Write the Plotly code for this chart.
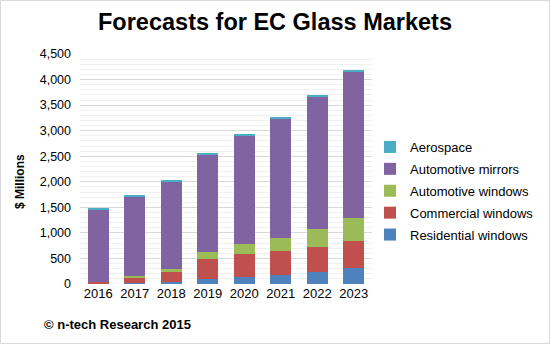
import plotly.graph_objects as go

years = ["2016", "2017", "2018", "2019", "2020", "2021", "2022", "2023"]
residential = [5, 20, 45, 97, 136, 175, 240, 318]
commercial = [35, 115, 195, 396, 455, 474, 487, 526]
auto_windows = [0, 20, 60, 137, 194, 253, 344, 448]
auto_mirrors = [1425, 1565, 1705, 1896, 2123, 2340, 2592, 2871]
aerospace = [5, 20, 25, 20, 20, 20, 20, 20]

series = [
    ("Residential windows", residential, "#4F81BD"),
    ("Commercial windows", commercial, "#C0504D"),
    ("Automotive windows", auto_windows, "#9BBB59"),
    ("Automotive mirrors", auto_mirrors, "#8064A2"),
    ("Aerospace", aerospace, "#4BACC6"),
]

W, H = 550, 344
L, R, T, B = 80, 178, 54, 60
pw = W - L - R
ph = H - T - B

fig = go.Figure()
n = len(series)
for i, (name, vals, col) in enumerate(series):
    fig.add_trace(go.Bar(x=years, y=vals, name=name, legendgroup=name,
                         legendrank=n - i,
                         marker=dict(color=col, line=dict(width=0)), width=0.58))

font = "Arial, Liberation Sans, sans-serif"
fig.update_layout(
    width=W, height=H,
    margin=dict(l=L, r=R, t=T, b=B, autoexpand=False),
    barmode="stack",
    paper_bgcolor="white", plot_bgcolor="white",
    font=dict(family=font, size=12.5, color="#000000"),
    showlegend=True,
    legend=dict(traceorder="grouped", x=1 + (370 - 372) / pw, y=(284 - 191) / ph,
                xanchor="left", yanchor="middle",
                font=dict(size=13, color="#000"), itemwidth=30, tracegroupgap=2,
                bgcolor="rgba(0,0,0,0)"),
    xaxis=dict(showgrid=False, showline=False, ticks="", tickfont=dict(size=13),
               zeroline=False),
    yaxis=dict(range=[0, 4500], dtick=500, tickformat=",", showgrid=True,
               gridcolor="#D9D9D9", gridwidth=1, zeroline=False, showline=False,
               ticklabelstandoff=8, tickfont=dict(size=12.5),
               minor=dict(dtick=100, showgrid=True, gridcolor="#F0F0F0", gridwidth=1)),
    annotations=[
        dict(text="<b>Forecasts for EC Glass Markets</b>", xref="paper", yref="paper",
             x=(275 - L) / pw, y=1 + (T - 22) / ph, xanchor="center", yanchor="middle",
             showarrow=False, font=dict(size=23.5, family=font, color="#000")),
        dict(text="<b>$ Millions</b>", xref="paper", yref="paper", textangle=-90,
             x=(20 - L) / pw, y=(284 - 182) / ph, xanchor="center", yanchor="middle",
             showarrow=False, font=dict(size=12, family=font, color="#000")),
        dict(text="<b>© n-tech Research 2015</b>", xref="paper", yref="paper",
             x=(42 - L) / pw, y=-(324 - 284) / ph, xanchor="left", yanchor="middle",
             showarrow=False, font=dict(size=13, family=font, color="#000")),
    ],
    shapes=[
        dict(type="rect", xref="paper", yref="paper",
             x0=(0.5 - L) / pw, x1=(W - 0.5 - L) / pw,
             y0=-(H - 0.5 - (T + ph)) / ph, y1=1 + (T - 0.5) / ph,
             line=dict(color="#D9D9D9", width=1), layer="below"),
    ],
)

fig.write_html("out.html")
